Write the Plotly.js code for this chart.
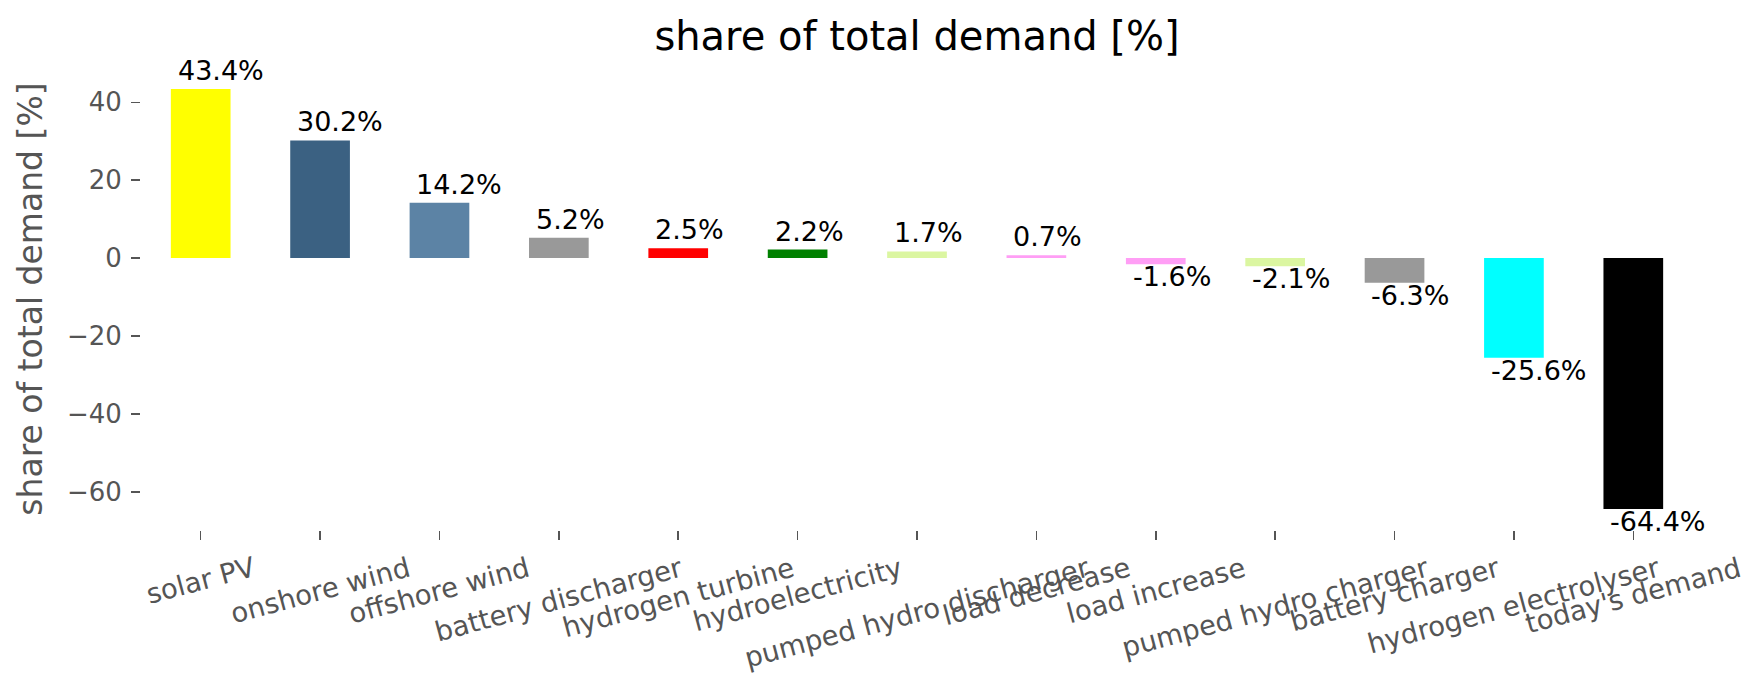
<!DOCTYPE html>
<html>
<head>
<meta charset="utf-8">
<script src="https://cdn.plot.ly/plotly-3.0.1.min.js"></script>
<style>
  html, body { margin: 0; padding: 0; background: #fff; }
  #chart { width: 1764px; height: 689px; }
</style>
</head>
<body>
<div id="chart"></div>
<script>
var categories = ["solar PV", "onshore wind", "offshore wind", "battery discharger",
    "hydrogen turbine", "hydroelectricity", "pumped hydro discharger", "load decrease",
    "load increase", "pumped hydro charger", "battery charger", "hydrogen electrolyser",
    "today's demand"];
var shares = [43.4, 30.2, 14.2, 5.2, 2.5, 2.2, 1.7, 0.7, -1.6, -2.1, -6.3, -25.6, -64.4];
var barColors = ["#ffff00", "#3b6182", "#5c83a5", "#999999", "#ff0000", "#008000",
    "#dbf6a1", "#ff9ef5", "#ff9ef5", "#dbf6a1", "#999999", "#00ffff", "#000000"];
var yTicks = [-60, -40, -20, 0, 20, 40];

var font = "DejaVu Sans, Verdana, sans-serif";
var grey = "#555555";

var idx = categories.map(function(c, i){ return i; });

var trace = {
    type: "bar",
    x: idx,
    y: shares,
    width: 0.5,
    marker: {color: barColors, line: {width: 0}},
    hoverinfo: "skip"
};

var annotations = [];

// value labels, left aligned on each bar
for (let i = 0; i < shares.length; i++){
    var v = shares[i];
    annotations.push({
        x: i - 0.25 + 0.04,
        y: v,
        xref: "x",
        yref: "y",
        text: v.toFixed(1) + "%",
        showarrow: false,
        xanchor: "left",
        yanchor: v >= 0 ? "bottom" : "top",
        yshift: v >= 0 ? 1 : 5,
        font: {family: font, size: 27, color: "#000000"}
    });
}

// rotated category labels, centred under the ticks
for (let i = 0; i < categories.length; i++){
    annotations.push({
        x: i,
        y: 0,
        xref: "x",
        yref: "paper",
        text: categories[i],
        showarrow: false,
        textangle: -15,
        xanchor: "center",
        yanchor: "top",
        yshift: -18,
        font: {family: font, size: 27.5, color: grey}
    });
}

var layout = {
    width: 1764,
    height: 689,
    margin: {l: 141, r: 71, t: 68, b: 159},
    paper_bgcolor: "#ffffff",
    plot_bgcolor: "#ffffff",
    showlegend: false,
    font: {family: font, color: grey},
    title: {
        text: "share of total demand [%]",
        x: 0.5,
        xref: "paper",
        y: 1 - 36 / 689,
        yref: "container",
        yanchor: "middle",
        font: {family: font, size: 40, color: "#000000"}
    },
    xaxis: {
        range: [-0.5, 12.5],
        tickmode: "array",
        tickvals: idx,
        showticklabels: false,
        ticks: "outside",
        ticklen: 9,
        tickwidth: 1.5,
        tickcolor: grey,
        showgrid: false,
        zeroline: false,
        showline: false,
        fixedrange: true
    },
    yaxis: {
        range: [-69.8, 48.8],
        tickmode: "array",
        tickvals: yTicks,
        ticks: "outside",
        ticklen: 9,
        tickwidth: 1.5,
        tickcolor: grey,
        ticklabelstandoff: 4,
        tickfont: {family: font, size: 26, color: grey},
        showgrid: false,
        zeroline: false,
        showline: false,
        fixedrange: true,
        automargin: true,
        title: {
            text: "share of total demand [%]",
            standoff: 14,
            font: {family: font, size: 33, color: grey}
        }
    },
    annotations: annotations
};

Plotly.newPlot("chart", [trace], layout, {displayModeBar: false, staticPlot: true});
</script>
</body>
</html>
